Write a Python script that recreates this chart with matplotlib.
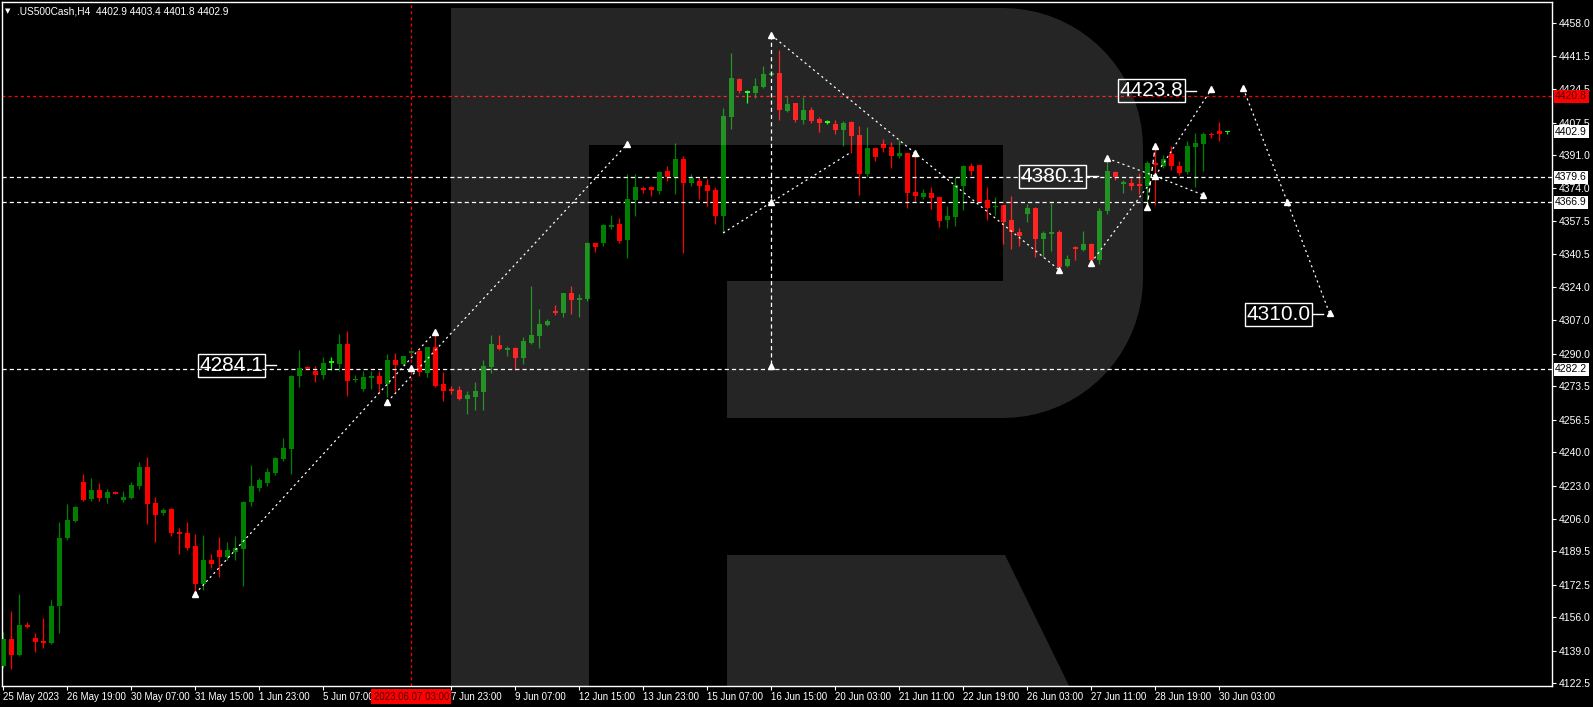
import matplotlib
matplotlib.use('Agg')

import numpy as np
import matplotlib.pyplot as plt
import matplotlib.transforms as mtransforms
from matplotlib.patches import Polygon

plt.rcParams['font.family'] = ['Liberation Sans', 'DejaVu Sans']
plt.rcParams['lines.scale_dashes'] = False

# H4 candles, .US500Cash 25 May - 30 Jun 2023
opens = [4131.4, 4145.0, 4136.9, 4152.1, 4145.5, 4144.0, 4143.0, 4161.8, 4196.3, 4205.0,
         4224.8, 4216.1, 4220.7, 4216.7, 4219.9, 4215.6, 4216.7, 4222.8, 4232.4, 4214.1,
         4209.0, 4211.1, 4199.4, 4198.9, 4192.3, 4173.0, 4185.2, 4190.2, 4186.7, 4189.2,
         4190.7, 4214.6, 4221.8, 4224.3, 4229.4, 4236.5, 4241.6, 4278.7, 4283.3, 4281.2,
         4279.2, 4285.8, 4284.8, 4294.9, 4277.0, 4272.1, 4277.7, 4278.7, 4274.6, 4286.8,
         4284.8, 4290.4, 4291.4, 4280.2, 4293.4, 4274.6, 4272.1, 4271.6, 4267.0, 4268.0,
         4270.5, 4283.3, 4294.4, 4291.9, 4292.9, 4287.8, 4295.5, 4299.0, 4304.6, 4311.7,
         4310.7, 4320.9, 4317.3, 4317.8, 4346.3, 4346.3, 4354.4, 4355.9, 4347.8, 4368.1,
         4374.2, 4374.7, 4372.7, 4382.9, 4379.8, 4389.0, 4376.8, 4377.8, 4375.8, 4373.2,
         4360.0, 4410.3, 4429.6, 4423.0, 4422.5, 4425.6, 4431.7, 4432.7, 4413.4, 4417.4,
         4408.8, 4413.9, 4409.3, 4407.8, 4406.8, 4403.7, 4407.8, 4401.2, 4381.4, 4394.6,
         4396.6, 4395.1, 4390.5, 4392.0, 4372.2, 4369.7, 4371.7, 4369.7, 4358.0, 4359.5,
         4375.3, 4385.4, 4385.9, 4368.1, 4365.0, 4365.6, 4358.0, 4351.9, 4361.0, 4364.1,
         4348.3, 4350.9, 4351.9, 4334.6, 4344.3, 4342.7, 4345.8, 4337.6, 4362.5, 4382.4,
         4376.8, 4376.8, 4375.8, 4375.3, 4386.9, 4385.4, 4391.5, 4385.4, 4382.4, 4395.1,
         4396.6, 4401.7, 4403.2, 4402.9]
highs = [4148.6, 4159.2, 4167.9, 4153.6, 4148.0, 4155.7, 4164.8, 4204.5, 4213.6, 4212.6,
         4228.9, 4226.8, 4224.3, 4221.2, 4220.4, 4220.2, 4224.8, 4235.0, 4237.5, 4217.2,
         4211.6, 4211.6, 4201.4, 4204.5, 4198.4, 4197.9, 4188.2, 4196.8, 4194.3, 4197.4,
         4215.1, 4233.4, 4226.8, 4231.9, 4237.5, 4247.2, 4279.0, 4291.9, 4283.8, 4283.8,
         4288.3, 4288.3, 4300.0, 4301.6, 4279.2, 4281.2, 4281.2, 4281.2, 4289.9, 4290.4,
         4289.4, 4291.9, 4291.9, 4293.4, 4300.5, 4280.7, 4273.6, 4273.6, 4271.1, 4275.6,
         4286.8, 4299.5, 4299.5, 4293.9, 4293.4, 4298.5, 4324.4, 4312.7, 4307.6, 4314.8,
         4320.9, 4324.4, 4320.4, 4346.8, 4346.3, 4355.9, 4360.5, 4359.0, 4381.4, 4381.4,
         4375.2, 4375.2, 4382.9, 4385.4, 4397.1, 4390.5, 4381.4, 4379.8, 4378.8, 4374.7,
         4414.9, 4442.9, 4430.2, 4424.1, 4430.2, 4436.3, 4433.7, 4444.4, 4421.0, 4417.4,
         4420.5, 4415.4, 4410.3, 4408.8, 4408.8, 4408.3, 4408.3, 4405.7, 4405.2, 4395.1,
         4399.1, 4397.6, 4398.6, 4392.0, 4391.5, 4373.7, 4374.7, 4369.7, 4365.1, 4379.8,
         4385.9, 4386.9, 4385.9, 4374.7, 4369.7, 4365.6, 4370.2, 4353.9, 4366.1, 4364.6,
         4352.4, 4366.6, 4352.9, 4340.2, 4344.7, 4352.4, 4346.3, 4364.1, 4388.5, 4382.9,
         4378.3, 4379.3, 4381.9, 4388.0, 4396.6, 4391.0, 4395.6, 4388.0, 4398.1, 4402.2,
         4402.7, 4402.7, 4407.8, 4403.4]
lows = [4130.3, 4129.7, 4136.5, 4150.8, 4138.4, 4140.4, 4142.5, 4148.0, 4195.3, 4204.5,
        4215.3, 4215.1, 4215.1, 4214.1, 4218.7, 4214.6, 4216.1, 4221.2, 4203.5, 4194.3,
        4208.0, 4197.4, 4188.2, 4190.2, 4168.9, 4169.9, 4181.1, 4176.5, 4185.2, 4185.2,
        4171.9, 4212.6, 4220.2, 4222.8, 4228.4, 4235.5, 4228.9, 4273.1, 4282.0, 4275.6,
        4277.2, 4281.7, 4281.2, 4268.5, 4275.6, 4271.1, 4272.1, 4270.0, 4268.0, 4270.5,
        4284.3, 4289.4, 4278.7, 4278.2, 4273.1, 4266.0, 4269.5, 4266.5, 4259.4, 4261.4,
        4261.4, 4280.2, 4291.9, 4288.8, 4281.7, 4284.8, 4294.9, 4292.9, 4304.1, 4309.7,
        4308.7, 4310.2, 4308.7, 4316.8, 4341.7, 4344.8, 4353.4, 4346.3, 4338.7, 4360.0,
        4371.7, 4370.2, 4371.2, 4377.8, 4371.2, 4341.2, 4375.3, 4368.6, 4365.0, 4356.0,
        4351.4, 4404.2, 4422.5, 4417.4, 4420.0, 4425.1, 4431.2, 4408.8, 4412.9, 4407.8,
        4406.8, 4407.3, 4402.7, 4406.8, 4401.7, 4395.6, 4392.0, 4370.7, 4379.8, 4388.0,
        4392.5, 4384.4, 4389.5, 4364.1, 4367.1, 4368.6, 4363.6, 4354.4, 4353.9, 4354.9,
        4363.1, 4380.9, 4366.6, 4358.0, 4360.5, 4345.8, 4343.2, 4344.7, 4356.9, 4339.2,
        4339.2, 4342.2, 4333.6, 4334.1, 4337.6, 4342.2, 4336.6, 4335.6, 4361.0, 4378.3,
        4371.7, 4373.2, 4371.2, 4365.6, 4365.6, 4384.4, 4383.4, 4380.9, 4381.4, 4374.7,
        4382.9, 4399.7, 4398.1, 4401.8]
closes = [4145.0, 4136.9, 4152.1, 4151.1, 4143.5, 4143.0, 4161.8, 4196.3, 4205.5, 4212.1,
          4215.6, 4220.7, 4216.7, 4219.7, 4218.9, 4217.2, 4223.3, 4232.4, 4213.6, 4208.0,
          4210.6, 4198.9, 4198.4, 4191.3, 4173.0, 4185.2, 4183.1, 4186.7, 4190.2, 4191.3,
          4214.6, 4222.8, 4225.8, 4229.9, 4237.0, 4242.1, 4278.7, 4282.7, 4282.2, 4279.2,
          4285.3, 4285.8, 4294.9, 4276.1, 4277.6, 4278.2, 4278.7, 4274.6, 4286.8, 4284.3,
          4288.8, 4291.4, 4280.7, 4293.4, 4273.6, 4271.1, 4271.1, 4267.0, 4269.0, 4271.1,
          4283.8, 4294.9, 4292.4, 4292.9, 4287.8, 4296.5, 4299.5, 4305.1, 4306.6, 4310.7,
          4320.9, 4317.3, 4318.3, 4346.3, 4344.3, 4355.4, 4355.4, 4347.3, 4368.6, 4374.7,
          4373.7, 4373.2, 4382.4, 4379.8, 4389.0, 4376.8, 4379.3, 4375.3, 4372.7, 4360.0,
          4410.8, 4430.2, 4423.5, 4423.0, 4426.1, 4432.2, 4432.7, 4413.9, 4416.9, 4408.8,
          4413.9, 4408.3, 4407.3, 4407.8, 4403.7, 4407.3, 4400.7, 4381.4, 4394.6, 4390.0,
          4394.6, 4390.5, 4392.0, 4371.7, 4370.2, 4371.7, 4369.2, 4357.5, 4360.0, 4375.8,
          4385.4, 4382.9, 4367.1, 4364.1, 4365.2, 4356.9, 4351.9, 4349.8, 4364.1, 4348.3,
          4351.4, 4351.9, 4334.1, 4338.2, 4343.2, 4345.8, 4337.6, 4362.5, 4382.9, 4379.8,
          4376.9, 4375.3, 4375.7, 4386.9, 4386.4, 4389.0, 4385.4, 4381.9, 4395.6, 4397.1,
          4401.7, 4401.6, 4401.7, 4402.9]

time_tick_bars = [0, 8, 16, 24, 32, 40, 56, 64, 72, 80, 88, 96, 104, 112, 120, 128, 136, 144, 152]
time_tick_labels = ['25 May 2023', '26 May 19:00', '30 May 07:00', '31 May 15:00', '1 Jun 23:00',
                    '5 Jun 07:00', '7 Jun 23:00', '9 Jun 07:00', '12 Jun 15:00', '13 Jun 23:00',
                    '15 Jun 07:00', '16 Jun 15:00', '20 Jun 03:00', '21 Jun 11:00', '22 Jun 19:00',
                    '26 Jun 03:00', '27 Jun 11:00', '28 Jun 19:00', '30 Jun 03:00']
price_ticks = [4458.0, 4441.5, 4424.5, 4407.5, 4391.0, 4374.0, 4357.5, 4340.5, 4324.0, 4307.0,
               4290.0, 4273.5, 4256.5, 4240.0, 4223.0, 4206.0, 4189.5, 4172.5, 4156.0, 4139.0, 4122.5]

level_prices = [4379.6, 4366.9, 4282.2]
bid_price = 4402.9
cross_price = 4420.8
cross_bar = 51
cross_label = '2023.06.07 03:00'

# forecast / wave drawings: (bar, price)
wave_lines = [
    ([24, 54], [4168.0, 4301.2]),
    ([48, 78], [4265.5, 4396.6]),
    ([90, 96, 106], [4351.4, 4367.0, 4392.5]),
    ([96, 114, 132], [4452.0, 4391.9, 4332.6]),
    ([136, 144], [4336.3, 4380.3]),
    ([138, 144], [4389.3, 4380.3]),
    ([144, 150], [4380.3, 4370.7]),
    ([144, 151], [4380.3, 4424.4]),
    ([155, 160.5, 165.8], [4424.9, 4367.3, 4310.5]),
]
dash_lines = [
    ([96, 96], [4452.0, 4283.8]),
    ([143, 144], [4364.7, 4395.6]),
]
marker_bars = [24, 48, 51, 54, 78, 96, 96, 96, 114, 132, 136, 138, 143, 144, 144, 150, 151, 155, 160.5, 165.8]
marker_prices = [4168.0, 4265.5, 4282.9, 4301.2, 4396.6, 4452.0, 4367.0, 4283.8, 4391.9, 4332.6,
                 4336.3, 4389.3, 4364.7, 4395.6, 4380.3, 4370.7, 4424.4, 4424.9, 4367.3, 4310.5]

label_values = [4284.1, 4380.1, 4423.8, 4310.0]
label_anchor_bars = [34.1, 136.8, 149.1, 165.0]

opens = np.array(opens); highs = np.array(highs)
lows = np.array(lows); closes = np.array(closes)
idx = np.arange(len(opens))

fig = plt.figure(figsize=(15.93, 7.07), dpi=100, facecolor='black')
ax = fig.add_axes([2 / 1593, 21 / 707, 1550 / 1593, 684 / 707])
ax.set_facecolor('black')

colors = np.where(closes > opens, '#008000', np.where(closes < opens, '#ff0000', '#00ff00'))
ax.vlines(idx, lows, highs, colors=colors, lw=0.9, zorder=2)
body_h = np.maximum(np.abs(closes - opens), 0.7)
body_b = np.minimum(opens, closes) - np.where(np.abs(closes - opens) < 0.7, 0.35, 0)
ax.bar(idx, body_h, bottom=body_b, width=0.62, color=colors, lw=0, zorder=3)

# horizontal levels & crosshair
for p in level_prices:
    ax.axhline(p, color='white', lw=0.9, dashes=(3, 2.2), zorder=2.5)
ax.axhline(cross_price, color='red', lw=0.9, dashes=(2.2, 2.2), zorder=2.5)
ax.axvline(cross_bar, color='red', lw=0.9, dashes=(2.2, 2.2), zorder=2.5)

for xs, ys in wave_lines:
    ax.plot(xs, ys, color='white', lw=0.9, dashes=(1.5, 2.4), zorder=4)
for xs, ys in dash_lines:
    ax.plot(xs, ys, color='white', lw=0.9, dashes=(3, 2.2), zorder=4)
ax.plot(marker_bars, marker_prices, ls='none', marker='^', ms=4, color='white', zorder=4)

for val, ab in zip(label_values, label_anchor_bars):
    ax.plot([ab - 1.3, ab], [val, val], color='white', lw=1, zorder=6)
    ax.text(ab - 1.6, val, '%.1f' % val, ha='right', va='center', fontsize=15, color='white',
            zorder=6, bbox=dict(boxstyle='square,pad=0.08', fc='none', ec='white', lw=1))

# RoboForex-like watermark
pix = mtransforms.Affine2D().scale(1 / 1593, -1 / 707).translate(0, 1) + fig.transFigure
r = 140
t1 = np.linspace(np.pi / 2, 0, 20)
t2 = np.linspace(0, -np.pi / 2, 20)
outline = [(451, 8)]
outline += list(zip(1003 + r * np.cos(t1), 148 - r * np.sin(t1)))
outline += list(zip(1003 + r * np.cos(t2), 278 - r * np.sin(t2)))
outline += [(727, 418), (727, 281), (1003, 281), (1003, 145), (589, 145), (589, 700), (451, 700)]
ax.add_patch(Polygon(outline, closed=True, transform=pix, fc='white', alpha=0.15, lw=0, zorder=5))
leg = [(727, 555), (1005, 555), (1076, 700), (727, 700)]
ax.add_patch(Polygon(leg, closed=True, transform=pix, fc='white', alpha=0.15, lw=0, zorder=5))

ax.set_xlim(-0.16, 193.6)
ax.set_ylim(4121.1, 4468.8)

for s in ax.spines.values():
    s.set_color('white')
    s.set_linewidth(1)

ax.yaxis.tick_right()
ax.set_yticks(price_ticks)
ax.set_yticklabels(['%.1f' % p for p in price_ticks])
ax.tick_params(axis='y', colors='white', labelsize=7.5, length=3, width=0.8, pad=2)
ax.set_xticks(time_tick_bars)
ax.set_xticklabels(time_tick_labels)
ax.tick_params(axis='x', colors='white', labelsize=7, length=3, width=0.8, pad=1.5)
for lbl in ax.get_xticklabels():
    lbl.set_ha('left')

ytr = mtransforms.blended_transform_factory(ax.transAxes, ax.transData)
box_kw = dict(boxstyle='square,pad=0.15', lw=0)
ax.text(1.002, cross_price, '%.1f' % cross_price, transform=ytr, ha='left', va='center', fontsize=7.5,
        color='#4a0000', clip_on=False, zorder=7, bbox=dict(fc='red', **box_kw))
for p in level_prices + [bid_price]:
    ax.text(1.002, p, '%.1f' % p, transform=ytr, ha='left', va='center', fontsize=7.5,
            color='black', clip_on=False, zorder=7, bbox=dict(fc='white', **box_kw))
xtr = mtransforms.blended_transform_factory(ax.transData, ax.transAxes)
ax.text(cross_bar, -0.0155, cross_label, transform=xtr, ha='center', va='center', fontsize=7,
        color='#4a0000', clip_on=False, zorder=7, bbox=dict(fc='red', boxstyle='square,pad=0.25', lw=0))

fig.text(5 / 1593, 1 - 11 / 707, '\u25bc', color='white', fontsize=5, va='center', family='DejaVu Sans')
fig.text(17 / 1593, 1 - 11 / 707, '.US500Cash,H4  4402.9 4403.4 4401.8 4402.9',
         color='white', fontsize=7.3, va='center')

fig.savefig('out.png', dpi=100, facecolor='black')
